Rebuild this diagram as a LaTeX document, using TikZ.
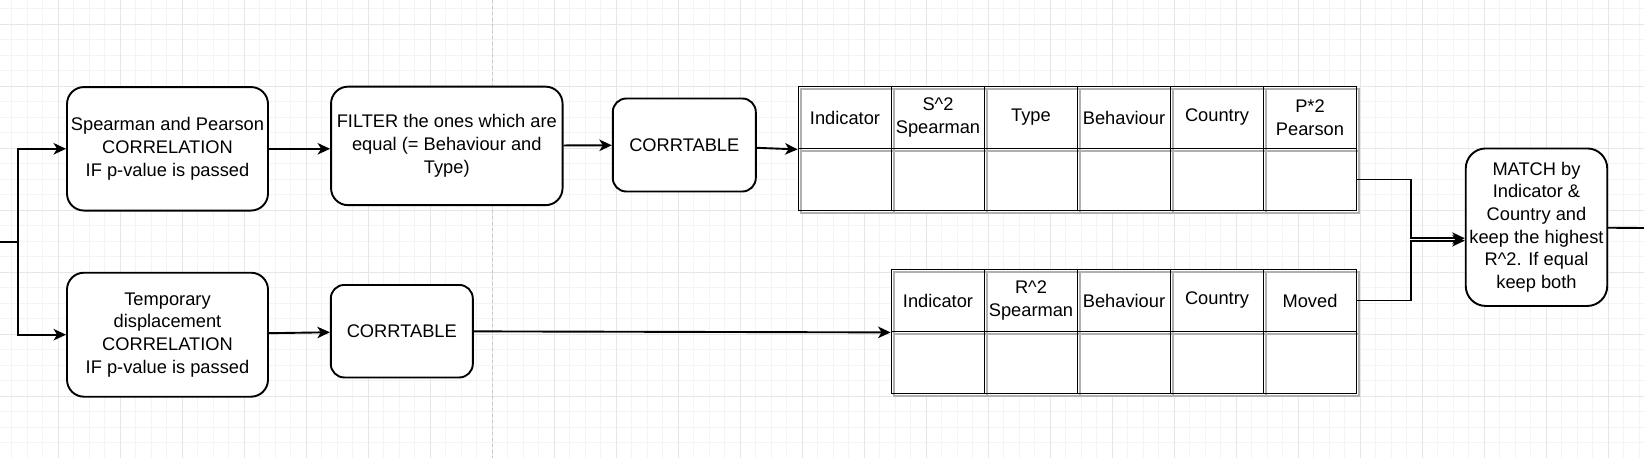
\documentclass[tikz,border=0pt]{standalone}
\usepackage{fontspec}
\setmainfont{Liberation Sans}
\usepackage{xcolor}
\usetikzlibrary{arrows.meta,positioning,calc}

\definecolor{gridminor}{HTML}{F4F4F4}
\definecolor{gridmajor}{HTML}{E6E6E6}
\definecolor{pagebreak}{HTML}{C8C8C8}
\definecolor{shadowgray}{HTML}{B0B0B0}

\begin{document}
\begin{tikzpicture}[x=0.2mm, y=-0.2mm,
    proc/.style={draw, line width=0.38mm, rounded corners=3.4mm, fill=white, align=center, inner sep=0pt, font=\fontsize{10.4pt}{12.9pt}\selectfont},
    cell/.style={draw, line width=0.36mm, minimum width=18.6mm, minimum height=12.4mm, inner sep=0pt, align=center, font=\fontsize{10.4pt}{12.9pt}\selectfont},
    link/.style={line width=0.38mm, -{Stealth[length=2.5mm,width=2.3mm,inset=0.7mm]}},
    wire/.style={line width=0.38mm}]

    % Canvas and grid
    \useasboundingbox (0,0) rectangle (1644,458);
    \fill[white] (0,0) rectangle (1644,458);
    \foreach \i in {0,...,106} {
        \draw[gridminor, line width=0.2mm] ({-4+15.5*\i},0) -- ++(0,458);
    }
    \foreach \i in {0,...,29} {
        \draw[gridminor, line width=0.2mm] (0,{8.5+15.5*\i}) -- ++(1644,0);
    }
    \foreach \i in {0,...,26} {
        \draw[gridmajor, line width=0.2mm] ({-4+62*\i},0) -- ++(0,458);
    }
    \foreach \i in {0,...,7} {
        \draw[gridmajor, line width=0.2mm] (0,{24+62*\i}) -- ++(1644,0);
    }
    \draw[pagebreak, line width=0.2mm, dash pattern=on 0.6mm off 0.6mm] (492,0) -- (492,458);

    % Process boxes
    \node[proc, minimum width=40.2mm, minimum height=24.7mm] (corr1) at (167.5,148.8) {Spearman and Pearson\\CORRELATION\\IF p-value is passed};
    \node[proc, minimum width=46.3mm, minimum height=23.7mm] (filter) at (446.8,145.9) {FILTER the ones which are\\equal (= Behaviour and\\Type)};
    \node[proc, minimum width=28.6mm, minimum height=18.6mm, rounded corners=2.7mm] (ctab1) at (684.3,145) {CORRTABLE};
    \node[proc, minimum width=40.2mm, minimum height=24.8mm] (corr2) at (167.5,334.7) {Temporary\\displacement\\CORRELATION\\IF p-value is passed};
    \node[proc, minimum width=28.4mm, minimum height=18.5mm, rounded corners=2.7mm] (ctab2) at (401.8,331.2) {CORRTABLE};
    \node[proc, minimum width=28.3mm, minimum height=31.5mm, rounded corners=4mm] (match) at (1536.5,227.2) {MATCH by\\Indicator \&\\Country and\\keep the highest\\R\textasciicircum 2. If equal\\keep both};

    % First table
    \fill[white] (798.5,86.5) rectangle (1360,213.5);
    \foreach \c in {0,...,5} {
        \draw[shadowgray, line width=0.4mm] ({801+93*\c},89) rectangle ++(93,62);
        \draw[shadowgray, line width=0.4mm] ({801+93*\c},151) rectangle ++(93,62);
    }
    \foreach \c/\txt [count=\i] in {0/Indicator, 1/{S\textasciicircum 2\\Spearman}, 2/Type, 3/Behaviour, 4/Country, 5/{P*2\\Pearson}} {
        \node[cell] (ta-h\i) at ({845+93*\c},117.5) {\txt};
        \node[cell] (ta-d\i) at ({845+93*\c},179.5) {};
    }

    % Second table
    \fill[white] (891.5,269.5) rectangle (1360,396.5);
    \foreach \c in {0,...,4} {
        \draw[shadowgray, line width=0.4mm] ({894+93*\c},272) rectangle ++(93,62);
        \draw[shadowgray, line width=0.4mm] ({894+93*\c},334) rectangle ++(93,62);
    }
    \foreach \c/\txt [count=\i] in {0/Indicator, 1/{R\textasciicircum 2\\Spearman}, 2/Behaviour, 3/Country, 4/Moved} {
        \node[cell] (tb-h\i) at ({938+93*\c},300.5) {\txt};
        \node[cell] (tb-d\i) at ({938+93*\c},362.5) {};
    }

    % Connectors
    \coordinate (in) at (0,242);
    \coordinate (split) at (18.4,242);
    \coordinate (out) at (1644,228);
    \draw[wire] (in) -- (split);
    \draw[link] (split) |- (corr1);
    \draw[link] (split) |- (corr2);
    \draw[link] (corr1) -- (corr1 -| filter.west);
    \draw[link] (filter) -- (ctab1);
    \draw[link] (ctab1) -- (ta-h1.south west);
    \draw[link] (corr2) -- (ctab2);
    \draw[link] (ctab2) -- (tb-h1.south west);
    \draw[link] (ta-d6.east) -- ++(54,0) |- ($(match.west)+(0,11)$);
    \draw[link] (tb-h5.east) -- ++(54,0) |- ($(match.west)+(0,13.5)$);
    \draw[wire] (match) -- (out);
\end{tikzpicture}
\end{document}
